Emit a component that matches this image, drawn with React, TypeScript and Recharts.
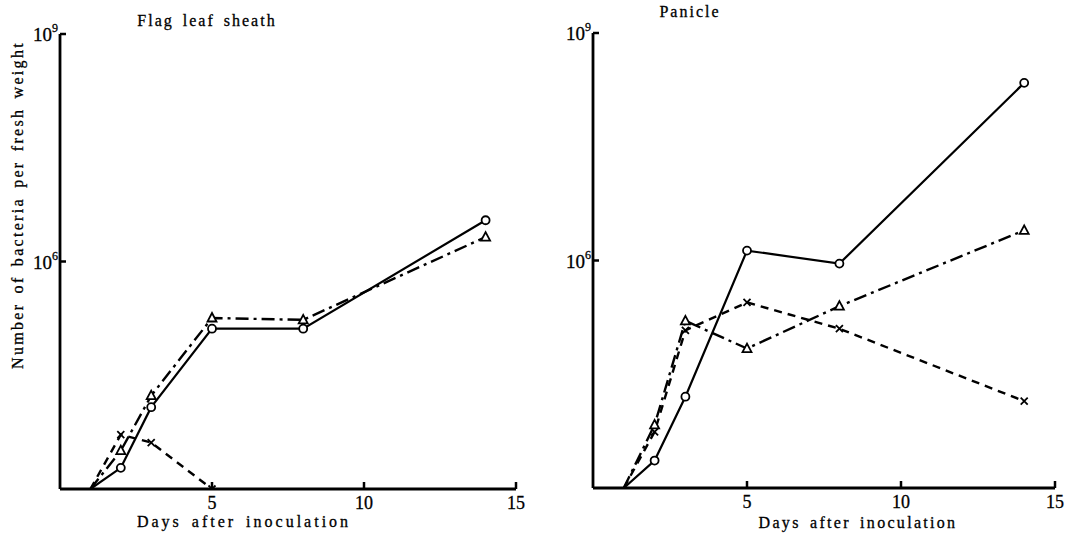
import React from 'react'
import { Line, LineChart, XAxis, YAxis } from 'recharts'

// sampling days
const days = [1, 2, 3, 5, 8, 14]

// Flag leaf sheath (bacteria per fresh weight)
const sheathCircle = [1e3, 1.9e3, 1.2e4, 1.3e5, 1.3e5, 3.5e6]
const sheathTriangle = [1e3, 3.2e3, 1.7e4, 1.8e5, 1.7e5, 2.1e6]
const sheathCross = [1e3, 5.2e3, 4.1e3, 1e3]

// Panicle
const panicleCircle = [1e3, 2.3e3, 1.6e4, 1.35e6, 9.1e5, 2.2e8]
const panicleTriangle = [1e3, 6.8e3, 1.6e5, 6.9e4, 2.5e5, 2.5e6]
const panicleCross = [1e3, 5.5e3, 1.2e5, 2.8e5, 1.26e5, 1.4e4]

const xTicks = [5, 10, 15]
const yTicks = [1e6, 1e9]

const FONT = '"Liberation Serif", "DejaVu Serif", serif'

function rows(circle: number[], triangle: number[], cross: number[]) {
  return days.map((day, i) => ({
    day,
    circle: circle[i],
    triangle: triangle[i],
    cross: cross[i],
  }))
}

function YTick({ x, y, payload }: any) {
  const exp = Math.round(Math.log10(payload.value))
  return (
    <g>
      <line x1={x} y1={y} x2={x + 6} y2={y} stroke="#000" strokeWidth={2.5} />
      <text
        x={x - 2}
        y={y + 7}
        textAnchor="end"
        fontFamily={FONT}
        fontSize={19}
        fill="#000"
        stroke="#000"
        strokeWidth={0.3}
      >
        10
        <tspan dy={-9} fontSize={12}>
          {exp}
        </tspan>
      </text>
    </g>
  )
}

function XTick({ x, y, payload }: any) {
  return (
    <g>
      <line x1={x} y1={y} x2={x} y2={y - 7} stroke="#000" strokeWidth={2.5} />
      <text
        x={x}
        y={y + 20}
        textAnchor="middle"
        fontFamily={FONT}
        fontSize={18}
        fill="#000"
        stroke="#000"
        strokeWidth={0.3}
      >
        {payload.value}
      </text>
    </g>
  )
}

function makeDot(kind: 'circle' | 'triangle' | 'cross') {
  return (props: any) => {
    const { cx, cy, payload, index } = props
    const key = `${kind}-${index}`
    if (payload.day === 1 || cx == null || cy == null) return <g key={key} />
    if (kind === 'circle') {
      return <circle key={key} cx={cx} cy={cy} r={4} fill="#fff" stroke="#000" strokeWidth={1.8} />
    }
    if (kind === 'triangle') {
      return (
        <path
          key={key}
          d={`M${cx},${cy - 5} L${cx + 4.5},${cy + 3.5} L${cx - 4.5},${cy + 3.5} Z`}
          fill="#fff"
          stroke="#000"
          strokeWidth={1.8}
        />
      )
    }
    return (
      <path
        key={key}
        d={`M${cx - 3.5},${cy - 3.5} L${cx + 3.5},${cy + 3.5} M${cx + 3.5},${cy - 3.5} L${cx - 3.5},${cy + 3.5}`}
        stroke="#000"
        strokeWidth={1.8}
      />
    )
  }
}

function Panel({
  data,
  width,
  margin,
  xHeight,
}: {
  data: ReturnType<typeof rows>
  width: number
  margin: { top: number; right: number; left: number; bottom: number }
  xHeight: number
}) {
  const axis = { stroke: '#000', strokeWidth: 2.8 }
  return (
    <LineChart width={width} height={537} data={data} margin={margin}>
      <XAxis
        type="number"
        dataKey="day"
        domain={[0, 15]}
        ticks={xTicks}
        tick={<XTick />}
        tickLine={false}
        tickSize={0}
        tickMargin={0}
        axisLine={axis}
        height={xHeight}
      />
      <YAxis
        type="number"
        scale="log"
        domain={[1e3, 1e9]}
        allowDataOverflow
        ticks={yTicks}
        tick={<YTick />}
        tickLine={false}
        tickSize={0}
        tickMargin={0}
        axisLine={axis}
        width={60}
      />
      <Line
        dataKey="circle"
        stroke="#000"
        strokeWidth={2.2}
        dot={makeDot('circle')}
        activeDot={false}
        isAnimationActive={false}
      />
      <Line
        dataKey="triangle"
        stroke="#000"
        strokeWidth={2.4}
        strokeDasharray="13 5 3 5"
        dot={makeDot('triangle')}
        activeDot={false}
        isAnimationActive={false}
      />
      <Line
        dataKey="cross"
        stroke="#000"
        strokeWidth={2.4}
        strokeDasharray="8 6"
        dot={makeDot('cross')}
        activeDot={false}
        isAnimationActive={false}
      />
    </LineChart>
  )
}

const textStyle: React.CSSProperties = {
  position: 'absolute',
  fontFamily: FONT,
  fontSize: 16,
  letterSpacing: 2,
  wordSpacing: 3,
  color: '#000',
  whiteSpace: 'nowrap',
  WebkitTextStroke: '0.3px #000',
}

export default function App() {
  return (
    <div
      style={{
        position: 'absolute',
        left: 0,
        top: 0,
        width: 1076,
        height: 537,
        background: '#fff',
        overflow: 'hidden',
      }}
    >
      <div style={{ position: 'absolute', left: 0, top: 0 }}>
        <Panel
          data={rows(sheathCircle, sheathTriangle, sheathCross)}
          width={540}
          margin={{ top: 34, right: 24, left: 0, bottom: 18 }}
          xHeight={30}
        />
      </div>
      <div style={{ position: 'absolute', left: 533, top: 0 }}>
        <Panel
          data={rows(panicleCircle, panicleTriangle, panicleCross)}
          width={543}
          margin={{ top: 33, right: 21, left: 0, bottom: 19 }}
          xHeight={30}
        />
      </div>

      <div style={{ ...textStyle, left: 207, top: 12, transform: 'translateX(-50%)' }}>
        Flag leaf sheath
      </div>
      <div style={{ ...textStyle, left: 690, top: 3, transform: 'translateX(-50%)' }}>Panicle</div>

      <div
        style={{ ...textStyle, left: 244, top: 513, letterSpacing: 3, transform: 'translateX(-50%)' }}
      >
        Days after inoculation
      </div>
      <div
        style={{ ...textStyle, left: 858, top: 514, letterSpacing: 2.3, transform: 'translateX(-50%)' }}
      >
        Days after inoculation
      </div>

      <div
        style={{
          ...textStyle,
          left: 18,
          top: 205,
          letterSpacing: 2.3,
          transform: 'translate(-50%, -50%) rotate(-90deg)',
        }}
      >
        Number of bacteria per fresh weight
      </div>
    </div>
  )
}
